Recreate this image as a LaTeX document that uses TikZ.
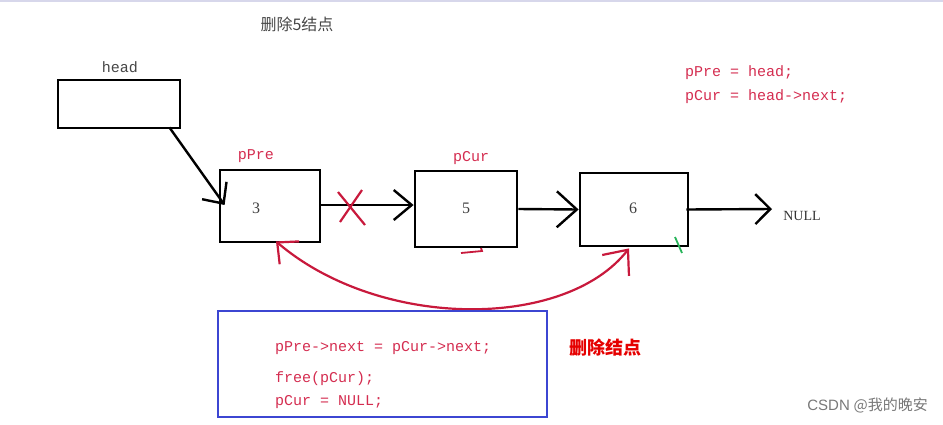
\documentclass[tikz,border=0pt]{standalone}
\usepackage{fontspec}
\setmainfont{Liberation Serif}
\setmonofont{Liberation Mono}
\newfontfamily\cjk{Noto Sans CJK SC}
\newfontfamily\lsans{Liberation Sans}
\usetikzlibrary{arrows.meta,calc}
\definecolor{codered}{RGB}{212,45,80}
\definecolor{linered}{RGB}{200,25,60}
\definecolor{boxblue}{RGB}{60,70,210}
\definecolor{titlegray}{RGB}{70,70,70}
\definecolor{wmgray}{RGB}{120,120,120}
\definecolor{tickgreen}{RGB}{40,180,90}
\definecolor{topbar}{RGB}{215,215,235}
\begin{document}
\begin{tikzpicture}[x=1pt,y=-1pt,
  nodebox/.style={draw=black,line width=2.8pt,inner sep=0pt},
  numtxt/.style={font=\fontsize{16}{16}\selectfont,text=black!75,inner sep=0pt},
  codetxt/.style={font=\ttfamily\fontsize{15}{15}\selectfont,text=codered,inner sep=0pt,anchor=west},
  handline/.style={line width=2.4pt,black},
  redline/.style={line width=2.2pt,linered}]
\useasboundingbox (0,0) rectangle (943,424);
\fill[topbar] (0,0) rectangle (943,2);
% title
\node[inner sep=0pt,text=titlegray,font=\cjk\fontsize{16}{16}\selectfont] (title) at (297,24) {删除5结点};
% head
\node[inner sep=0pt,text=titlegray,font=\ttfamily\fontsize{15}{15}\selectfont] (headlbl) at (120,67) {head};
\node[nodebox,minimum width=122pt,minimum height=48pt] (head) at (119,104) {};
% list nodes
\node[nodebox,minimum width=100pt,minimum height=72pt] (b3) at (270,206) {};
\node[numtxt] at (256,208) {3};
\node[nodebox,minimum width=102pt,minimum height=76pt] (b5) at (466,209) {};
\node[numtxt] at (466,208) {5};
\node[nodebox,minimum width=108pt,minimum height=73pt] (b6) at (634,209.5) {};
\node[numtxt] at (633,208) {6};
\node[inner sep=0pt,text=black!80,font=\fontsize{14}{14}\selectfont] (null) at (802,216) {NULL};
\coordinate (nullend) at (772,209);
% pointer labels
\node[codetxt,anchor=center] (ppre) at (256,156) {pPre};
\node[codetxt,anchor=center] (pcur) at (471,158) {pCur};
% connectors
\draw[handline,-{Straight Barb[length=16pt,width=30pt]}] ($(head.south east)+(-12,-2)$) -- ($(b3.west)+(6,-1)$);
\draw[handline,-{Straight Barb[length=18pt,width=30pt]}] ($(b3.east)+(0,-1)$) -- ($(b5.west)+(0,-4)$);
\draw[handline,-{Straight Barb[length=20pt,width=36pt]}] (b5.east) -- (b6.west);
\draw[handline,-{Straight Barb[length=15pt,width=30pt]}] ($(b6.east)+(-3,0)$) -- (nullend);
% red X
\draw[redline] (338,192) -- (365,225);
\draw[redline] (362,190) -- (340,222);
% red bypass curve
\draw[redline,{Straight Barb[length=16pt,width=30pt]}-{Straight Barb[length=20pt,width=34pt]}]
  ($(b3.south)+(6,-2)$) .. controls (380,330) and (565,330) .. ($(b6.south)+(-5,1)$);
% small marks
\draw[line width=1.8pt,linered] (461,253) -- (482,251) -- (481,248);
\draw[line width=1.8pt,tickgreen] (675,237) -- (682,253);
% code at top right
\node[codetxt] (c1) at (685,73) {pPre = head;};
\node[codetxt] (c2) at (685,97) {pCur = head->next;};
% blue box with code
\node[draw=boxblue,line width=2.2pt,minimum width=329pt,minimum height=106pt,inner sep=0pt] (codebox) at (382.5,364) {};
\node[codetxt] (d1) at (275,348) {pPre->next = pCur->next;};
\node[codetxt] (d2) at (275,379) {free(pCur);};
\node[codetxt] (d3) at (275,402) {pCur = NULL;};
\node[inner sep=0pt,text=red!90!black,font=\cjk\bfseries\fontsize{18}{18}\selectfont] (del) at (605,348) {删除结点};
% watermark
\node[inner sep=0pt,text=wmgray,font=\fontsize{15}{15}\selectfont,anchor=east] (wm) at (928,405) {{\lsans CSDN} {\cjk @我的晚安}};
\end{tikzpicture}
\end{document}
